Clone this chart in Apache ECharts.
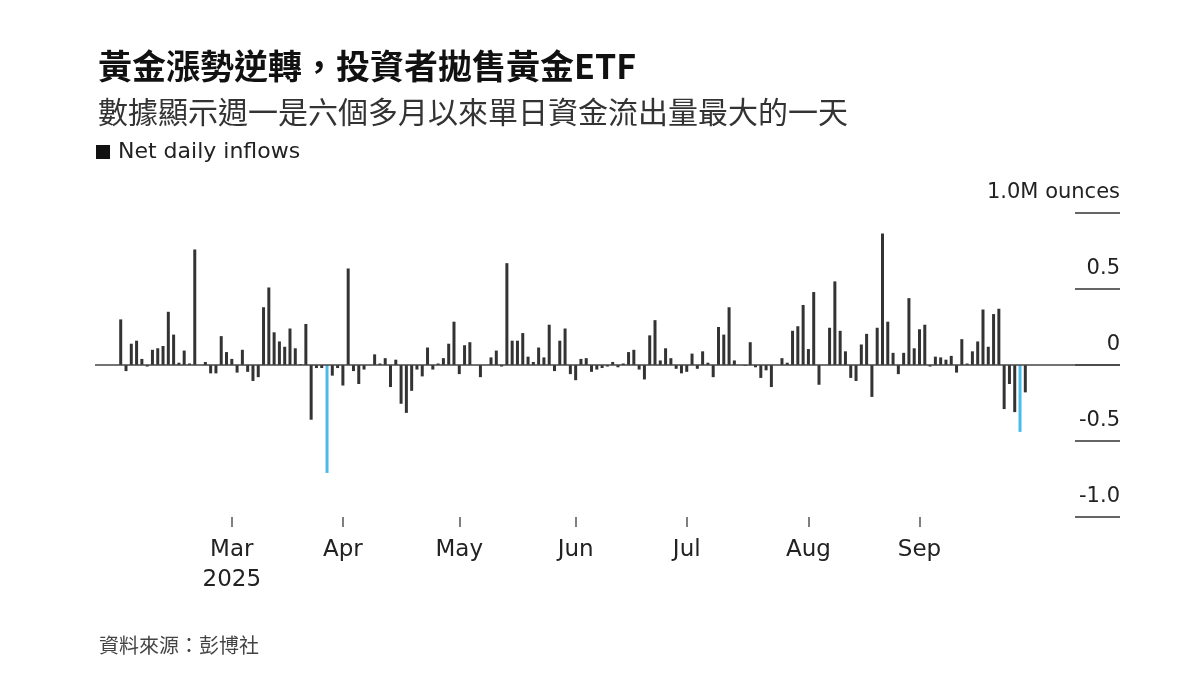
<!DOCTYPE html>
<html><head><meta charset="utf-8">
<script src="https://cdn.jsdelivr.net/npm/echarts@6/dist/echarts.min.js"></script>
<style>html,body{margin:0;padding:0;background:#fff}#c{width:1200px;height:675px}</style>
</head><body><div id="c"></div>
<script>
// ---- data (M ounces, one value per trading day starting 2025-01-31) ----
const startDate = '2025-01-31';
const values = [
  0.30,-0.04,0.14,0.16,0.04,-0.01,0.10,0.11,0.125,0.35,
  0.20,0.015,0.095,0.01,0.76,0.0,0.02,-0.055,-0.055,0.19,
  0.085,0.04,-0.05,0.10,-0.045,-0.105,-0.08,0.38,0.51,0.215,
  0.155,0.12,0.24,0.11,0.005,0.27,-0.36,-0.02,-0.02,-0.71,
  -0.07,-0.02,-0.135,0.635,-0.04,-0.125,-0.03,0.0,0.07,0.01,
  0.045,-0.145,0.035,-0.255,-0.315,-0.17,-0.03,-0.075,0.115,-0.03,
  0.01,0.045,0.14,0.285,-0.06,0.13,0.15,0.0,-0.08,0.0,
  0.05,0.095,-0.01,0.67,0.16,0.16,0.21,0.055,0.02,0.115,
  0.05,0.265,-0.04,0.16,0.24,-0.06,-0.10,0.04,0.045,-0.045,
  -0.03,-0.02,-0.01,0.02,-0.015,0.01,0.085,0.10,-0.03,-0.095,
  0.195,0.295,0.03,0.11,0.045,-0.025,-0.055,-0.045,0.075,-0.025,
  0.09,0.015,-0.08,0.25,0.20,0.38,0.03,0.0,-0.005,0.15,
  -0.015,-0.085,-0.035,-0.145,0.0,0.045,0.015,0.225,0.255,0.395,
  0.105,0.48,-0.13,0.0,0.245,0.55,0.225,0.09,-0.085,-0.105,
  0.135,0.205,-0.21,0.245,0.865,0.285,0.08,-0.06,0.08,0.44,
  0.11,0.235,0.265,-0.01,0.055,0.05,0.035,0.06,-0.05,0.17,
  0.01,0.09,0.155,0.365,0.12,0.335,0.37,-0.29,-0.125,-0.31,
  -0.44,-0.18
];
const highlightIdx = [39, 170];
const monthKeys = ['2025-03','2025-04','2025-05','2025-06','2025-07','2025-08','2025-09'];
const monthLabels = ['Mar\n2025','Apr','May','Jun','Jul','Aug','Sep'];
const yTickValues = [-1, -0.5, 0, 0.5, 1];
const yTickLabels = ['-1.0','-0.5','0','0.5','1.0M ounces'];
const seriesName = 'Net daily inflows';
const titleText = '黃金漲勢逆轉，投資者拋售黃金ETF';
const subtitleText = '數據顯示週一是六個多月以來單日資金流出量最大的一天';
const sourceText = '資料來源：彭博社';

// ---- trading-day calendar ----
const dates = [];
const d = new Date(startDate + 'T00:00:00Z');
while (dates.length < values.length) {
  const wd = d.getUTCDay();
  if (wd !== 0 && wd !== 6) dates.push(d.toISOString().slice(0, 10));
  d.setUTCDate(d.getUTCDate() + 1);
}
const tickIdx = monthKeys.map(k => dates.findIndex(s => s.startsWith(k)));
const labelFor = {};
tickIdx.forEach((t, i) => { labelFor[t] = monthLabels[i]; });

const BAR = '#333333', BLUE = '#4ab9ec';
const chart = echarts.init(document.getElementById('c'));
chart.setOption({
  animation: false,
  backgroundColor: '#fff',
  title: [
    { text: titleText, left: 93, top: 44, textStyle: { fontFamily: 'Noto Sans CJK TC', fontSize: 34, fontWeight: 'bold', color: '#111' } },
    { text: subtitleText, left: 93, top: 92, textStyle: { fontFamily: 'Noto Sans CJK TC', fontSize: 30, fontWeight: 'normal', color: '#333' } },
    { text: sourceText, left: 94, top: 630, textStyle: { fontFamily: 'Noto Sans CJK TC', fontSize: 20, fontWeight: 'normal', color: '#444' } }
  ],
  legend: {
    left: 96, top: 141, padding: 0, itemWidth: 14, itemHeight: 14, icon: 'rect',
    data: [{ name: seriesName, itemStyle: { color: '#111' } }],
    textStyle: { fontFamily: 'DejaVu Sans', fontSize: 22, color: '#222', padding: [0, 0, 0, 3] },
    selectedMode: false
  },
  grid: { left: 95, right: 80, top: 213, bottom: 158, containLabel: false },
  xAxis: {
    type: 'value', min: -4.86, max: 188.9,
    axisLine: { show: false, onZero: false }, splitLine: { show: false },
    axisTick: { show: true, customValues: tickIdx, length: 10, lineStyle: { color: '#555', width: 1.5 } },
    axisLabel: {
      customValues: tickIdx, margin: 18, fontFamily: 'DejaVu Sans', fontSize: 23, color: '#222', lineHeight: 30,
      formatter: v => labelFor[Math.round(v)] || ''
    }
  },
  yAxis: {
    type: 'value', position: 'right', min: -1, max: 1, interval: 0.5,
    axisLine: { show: false, onZero: false }, splitLine: { show: false },
    axisTick: { show: true, inside: true, length: 45, lineStyle: { color: '#333', width: 1.5 } },
    axisLabel: {
      inside: true, margin: 0, align: 'right', verticalAlign: 'bottom', padding: [0, 0, 10, 0],
      fontFamily: 'DejaVu Sans', fontSize: 21, color: '#222',
      formatter: v => { const i = yTickValues.findIndex(t => Math.abs(t - v) < 1e-9); return i >= 0 ? yTickLabels[i] : ''; }
    }
  },
  series: [{
    name: seriesName, type: 'bar', barWidth: 3, color: BAR,
    data: values.map((v, i) => ({ value: [i, v], itemStyle: { color: highlightIdx.includes(i) ? BLUE : BAR } })),
    markLine: {
      silent: true, symbol: 'none', label: { show: false },
      lineStyle: { color: '#444', width: 1.5, type: 'solid' },
      data: [{ yAxis: 0 }]
    }
  }]
});
</script></body></html>
